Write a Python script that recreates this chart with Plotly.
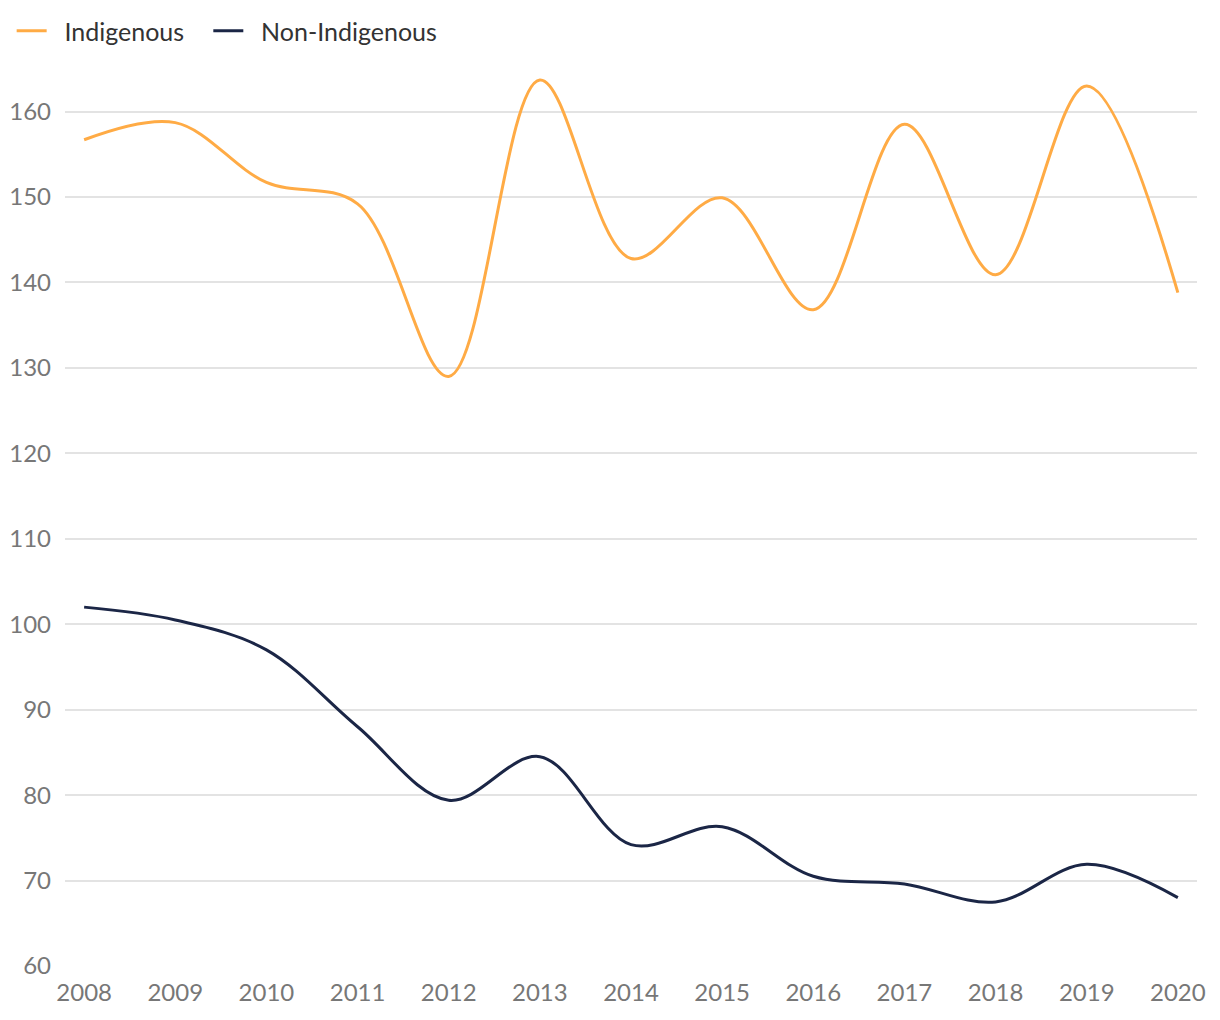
import plotly.graph_objects as go

years = [2008, 2009, 2010, 2011, 2012, 2013, 2014, 2015, 2016, 2017, 2018, 2019, 2020]
indigenous = [156.7, 158.7, 151.7, 149.2, 129.0, 163.7, 142.8, 149.9, 136.8, 158.5, 140.9, 163.0, 138.8]
non_indigenous = [102.0, 100.5, 97.0, 88.0, 79.4, 84.5, 74.2, 76.3, 70.5, 69.6, 67.5, 71.9, 68.0]
y_ticks = [60, 70, 80, 90, 100, 110, 120, 130, 140, 150, 160]
series_names = ["\u00a0\u00a0Indigenous\u00a0\u00a0\u00a0", "\u00a0\u00a0Non-Indigenous"]

FONT = "Lato"

fig = go.Figure()
fig.add_trace(go.Scatter(
    x=years, y=indigenous, name=series_names[0], mode="lines",
    line=dict(color="#FFAB45", width=3, shape="spline", smoothing=1.0),
))
fig.add_trace(go.Scatter(
    x=years, y=non_indigenous, name=series_names[1], mode="lines",
    line=dict(color="#1B2646", width=3, shape="spline", smoothing=1.0),
))

fig.update_layout(
    width=1220, height=1020,
    paper_bgcolor="white", plot_bgcolor="white",
    margin=dict(l=57, r=31, t=48, b=62, autoexpand=False),
    font=dict(family=FONT, size=24, color="#777777"),
    showlegend=True,
    legend=dict(
        orientation="h", xref="container", yref="container",
        x=0.003, y=1.0, xanchor="left", yanchor="top",
        font=dict(family=FONT, size=25, color="#333333"),
        itemwidth=30, bgcolor="rgba(0,0,0,0)",
    ),
    xaxis=dict(
        range=[2007.79, 2020.21], tickmode="array", tickvals=years,
        ticktext=[str(y) for y in years], showgrid=False, zeroline=False,
        showline=False, ticks="", tickfont=dict(size=24, color="#777777"),
        ticklabelstandoff=10, automargin=False,
    ),
    yaxis=dict(
        range=[60, 166.5], tickmode="array", tickvals=y_ticks,
        showgrid=True, gridcolor="#E3E3E3", gridwidth=1.5, zeroline=False,
        showline=False, ticks="", tickfont=dict(size=24, color="#777777"),
        ticklabelstandoff=13, automargin=False,
    ),
)

fig.write_html("out.html")
